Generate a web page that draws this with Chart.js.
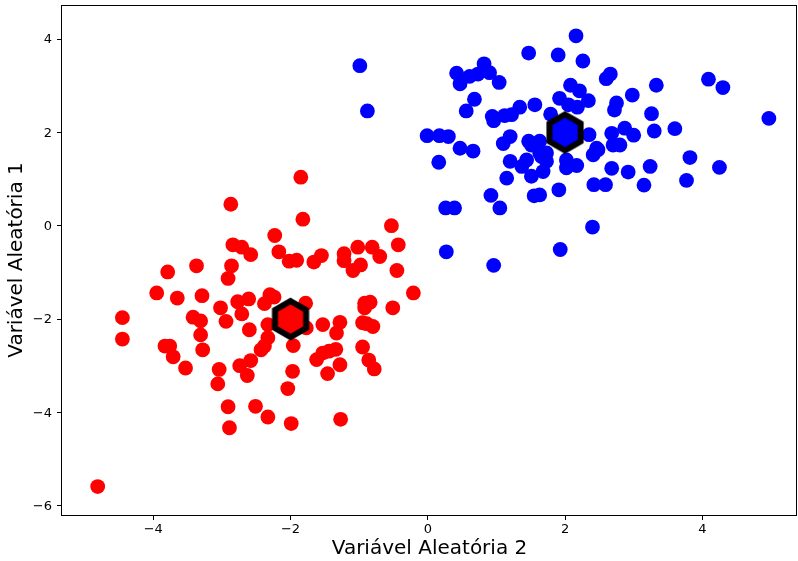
<!DOCTYPE html>
<html>
<head>
<meta charset="utf-8">
<script src="https://cdn.jsdelivr.net/npm/chart.js@4.4.1/dist/chart.umd.min.js"></script>
<style>
  html, body { margin: 0; padding: 0; background: #fff; }
  canvas { display: block; }
</style>
</head>
<body>
<canvas id="chart" width="798" height="561"></canvas>
<script>
// Cluster 1 (red) sample coordinates
const redX = [-2.87, -2.84, -2.71, -2.58, -2.86, -3.37, -3.79, -2.91, -3.95, -3.65,
              -3.29, -3.02, -2.77, -2.61, -4.45, -4.45, -3.42, -3.31, -2.94, -2.71,
              -2.60, -3.31, -3.83, -3.76, -3.71, -3.28, -2.43, -3.53, -3.04, -3.06,
              -2.74, -2.58, -2.63, -2.91, -2.51, -2.89, -2.30, -2.24, -2.38, -1.78,
              -2.33, -2.33, -2.38, -1.77, -1.96, -1.97, -2.04, -2.33, -1.99, -1.53,
              -1.28, -1.33, -1.62, -1.53, -1.44, -1.34, -1.28, -1.46, -1.27, -0.92,
              -0.84, -0.92, -0.51, -0.21, -0.95, -0.89, -0.80, -0.95, -0.86, -0.78,
              -1.85, -1.82, -2.23, -2.17, -2.02, -1.91, -1.66, -1.55, -1.22, -1.22,
              -1.09, -0.98, -1.02, -0.81, -0.70, -0.53, -0.43, -0.45, -4.81];
const redY = [ 0.46, -0.41, -0.46, -0.62, -0.86, -0.86, -0.99, -1.13, -1.44, -1.55,
              -1.50, -1.76, -1.63, -1.57, -1.97, -2.43, -1.96, -2.04, -2.05, -1.89,
              -2.23, -2.34, -2.58, -2.58, -2.81, -2.66, -2.66, -3.05, -3.08, -3.39,
              -3.00, -2.89, -3.21, -3.88, -3.87, -4.33, -1.48, -1.53, -1.67, -1.66,
              -2.12, -2.40, -2.58, -2.19, -2.57, -3.12, -3.49, -4.10, -4.24, -2.12,
              -2.07, -2.30, -2.87, -2.73, -2.69, -2.65, -2.98, -3.17, -4.15, -1.66,
              -1.64, -1.76, -1.76, -1.44, -2.08, -2.10, -2.16, -2.60, -2.88, -3.07,
               1.04,  0.14, -0.21, -0.56, -0.76, -0.74, -0.78, -0.64, -0.60, -0.75,
              -0.96, -0.84, -0.46, -0.46, -0.66,  0.00, -0.41, -0.96, -5.59];

// Cluster 2 (blue) sample coordinates
const blueX = [-0.99, -0.88, 1.47, 1.90, 0.42, 0.47, 0.61, 0.73, 0.82, 0.90,
                1.04,  0.68, 0.56, 0.94, 0.96, 1.12, 1.22, 1.34, 1.56, 1.79,
                1.92, -0.01, 0.17, 0.30, 1.20, 1.10, 1.47, 1.63, 0.47, 0.66,
                2.16,  2.26, 2.60, 2.66, 3.33, 4.09, 4.30, 4.97, 2.08, 2.21,
                2.05,  2.18, 2.34, 2.75, 2.72, 2.98, 3.26, 2.35, 2.68, 2.87,
                3.00,  3.30, 3.60, 2.70, 2.80, 2.46, 3.82, 4.25, 3.77, 3.24,
                3.15,  2.92, 2.68, 2.42, 2.59, 1.91, 2.40, 1.93, 1.63, 2.02,
                2.17,  2.02, 1.73, 1.68, 2.41, 2.48, 1.63, 0.16, 0.92, 1.05,
                0.26,  0.39, 0.27, 0.96, 1.15, 1.20, 1.55, 1.51, 1.37, 1.44,
                1.51,  1.73, 1.66];
const blueY = [ 3.43, 2.46, 3.70, 3.66, 3.27, 3.04, 3.20, 3.25, 3.47, 3.28,
                3.07, 2.71, 2.46, 2.34, 2.25, 2.36, 2.38, 2.54, 2.59, 2.39,
                2.73, 1.93, 1.93, 1.91, 1.91, 1.76, 1.81, 1.81, 1.66, 1.60,
                4.07, 3.53, 3.15, 3.25, 3.01, 3.14, 2.96, 2.30, 3.01, 2.89,
                2.59, 2.54, 2.68, 2.63, 2.48, 2.80, 2.40, 1.95, 1.98, 2.09,
                1.94, 2.03, 2.08, 1.73, 1.73, 1.66, 1.46, 1.25, 0.97, 1.27,
                0.87, 1.15, 1.23, 0.88, 0.88, 0.77, -0.03, -0.51, 0.66, 1.41,
                1.29, 1.24, 1.38, 1.16, 1.52, 1.63, 1.56, 1.36, 0.65, 0.38,
                0.38, 0.38, -0.56, -0.85, 1.02, 1.38, 0.64, 1.06, 1.27, 1.41,
                1.73, 1.56, 1.48];

// Cluster centres
const centerX = [-2, 2];
const centerY = [-2, 2];

// Axis ticks and titles
const xTicks = [-4, -2, 0, 2, 4];
const yTicks = [-6, -4, -2, 0, 2, 4];
const xTitle = 'Variável Aleatória 2';
const yTitle = 'Variável Aleatória 1';

const RED = '#ff0000';
const BLUE = '#0000ff';
const FONT = "'DejaVu Sans', sans-serif";

const toPoints = (xs, ys) => xs.map((x, i) => ({ x: x, y: ys[i] }));

// Pointy-top hexagon marker with a thick black outline
function hexMarker(fill) {
  const size = 52, c = size / 2, r = 18;
  const cv = document.createElement('canvas');
  cv.width = size; cv.height = size;
  const g = cv.getContext('2d');
  g.beginPath();
  for (let k = 0; k < 6; k++) {
    const a = -Math.PI / 2 + k * Math.PI / 3;
    const px = c + r * Math.cos(a), py = c + r * Math.sin(a);
    if (k === 0) g.moveTo(px, py); else g.lineTo(px, py);
  }
  g.closePath();
  g.fillStyle = fill;
  g.fill();
  g.lineWidth = 6;
  g.lineJoin = 'miter';
  g.strokeStyle = '#000';
  g.stroke();
  return cv;
}

const fmt = v => (v < 0 ? '\u2212' + Math.abs(v) : String(v));

// Box around the plotting area
const frame = {
  id: 'frame',
  afterDatasetsDraw(chart) {
    const { ctx, chartArea: a } = chart;
    ctx.save();
    ctx.strokeStyle = '#000';
    ctx.lineWidth = 1;
    ctx.strokeRect(Math.round(a.left) - 0.5, Math.round(a.top) + 0.5,
                   Math.round(a.right - a.left), Math.round(a.bottom - a.top));
    ctx.restore();
  }
};

new Chart(document.getElementById('chart'), {
  type: 'scatter',
  data: {
    datasets: [
      {
        data: toPoints(centerX.slice(0, 1), centerY.slice(0, 1)),
        pointStyle: hexMarker(RED),
        order: 0
      },
      {
        data: toPoints(centerX.slice(1), centerY.slice(1)),
        pointStyle: hexMarker(BLUE),
        order: 0
      },
      {
        data: toPoints(redX, redY),
        backgroundColor: RED,
        borderWidth: 0,
        pointRadius: 7.4,
        pointHoverRadius: 7.4,
        order: 1
      },
      {
        data: toPoints(blueX, blueY),
        backgroundColor: BLUE,
        borderWidth: 0,
        pointRadius: 7.4,
        pointHoverRadius: 7.4,
        order: 1
      }
    ]
  },
  options: {
    responsive: false,
    animation: false,
    devicePixelRatio: 1,
    events: [],
    layout: { autoPadding: false, padding: { top: 5, right: 1, left: 0, bottom: 0 } },
    plugins: { legend: { display: false }, tooltip: { enabled: false } },
    scales: {
      x: {
        type: 'linear',
        min: -5.33,
        max: 5.38,
        afterBuildTicks: s => { s.ticks = xTicks.map(v => ({ value: v })); },
        afterFit: s => { s.height = 46; s.paddingLeft = 0; s.paddingRight = 0; },
        grid: { drawOnChartArea: false, drawTicks: true, tickLength: 5, color: '#000', lineWidth: 1 },
        border: { display: false },
        ticks: {
          color: '#000', padding: 2, maxRotation: 0, autoSkip: false,
          font: { family: FONT, size: 13 },
          callback: v => fmt(v)
        },
        title: {
          display: true, text: xTitle, color: '#000',
          font: { family: FONT, size: 20 },
          padding: { top: 0, bottom: 0 }
        }
      },
      y: {
        type: 'linear',
        min: -6.2,
        max: 4.73,
        afterBuildTicks: s => { s.ticks = yTicks.map(v => ({ value: v })); },
        afterFit: s => { s.width = 62; s.paddingTop = 0; s.paddingBottom = 0; },
        grid: { drawOnChartArea: false, drawTicks: true, tickLength: 5, color: '#000', lineWidth: 1 },
        border: { display: false },
        ticks: {
          color: '#000', padding: 5, autoSkip: false, labelOffset: 1,
          font: { family: FONT, size: 13 },
          callback: v => fmt(v)
        },
        title: {
          display: true, text: yTitle, color: '#000',
          font: { family: FONT, size: 20 },
          padding: { top: 5, bottom: 0 }
        }
      }
    }
  },
  plugins: [frame]
});
</script>
</body>
</html>
